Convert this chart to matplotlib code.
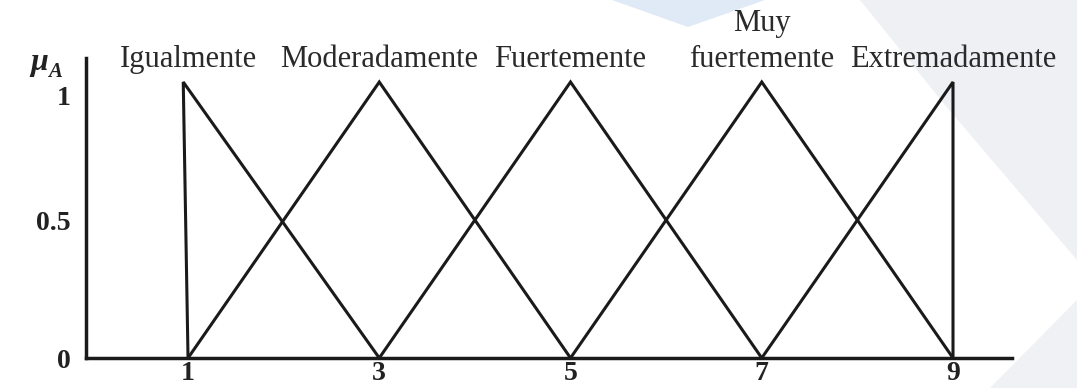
import matplotlib
matplotlib.use("Agg")
import matplotlib.pyplot as plt
from matplotlib.patches import Polygon
from matplotlib.transforms import offset_copy, ScaledTranslation

# Linguistic terms and their triangular membership functions (left, peak, right)
labels = ["Igualmente", "Moderadamente", "Fuertemente", "Muy\nfuertemente", "Extremadamente"]
left_feet = [1, 1, 3, 5, 7]
peaks = [0.95, 3, 5, 7, 9]
right_feet = [3, 5, 7, 9, 9]

x_ticks = [1, 3, 5, 7, 9]
y_ticks = [0, 0.5, 1]
y_tick_labels = ["0", "0.5", "1"]

W, H, DPI = 1077, 388, 100
fig = plt.figure(figsize=(W / DPI, H / DPI), dpi=DPI)
fig.patch.set_facecolor("white")

# soft decorative background shapes
def fpoly(pts, color):
    p = Polygon([(x / W, 1 - y / H) for x, y in pts], closed=True,
                transform=fig.transFigure, facecolor=color, edgecolor="none", zorder=-5)
    fig.patches.append(p)

fpoly([(612, 0), (765, 0), (688, 27)], "#dfeaf6")
fpoly([(860, 0), (1077, 0), (1077, 260), (945, 105)], "#eef0f4")
fpoly([(990, 388), (1077, 300), (1077, 388)], "#eff1f4")

ax = fig.add_axes([86 / W, 30 / H, (1012 - 86) / W, (330 - 30) / H])
ax.set_zorder(2)
ax.patch.set_alpha(0)
ax.set_xlim(-0.067, 9.617)
ax.set_ylim(0, 1.087)

ink = "#1a1a1a"
for a, b, c in zip(left_feet, peaks, right_feet):
    ax.plot([a, b, c], [0, 1, 0], color=ink, lw=2.2, solid_joinstyle="miter",
            clip_on=False, zorder=3)

for s in ["top", "right"]:
    ax.spines[s].set_visible(False)
for s in ["left", "bottom"]:
    ax.spines[s].set_linewidth(2.5)
    ax.spines[s].set_color(ink)

serif = ["Liberation Serif", "DejaVu Serif"]
ax.set_xticks(x_ticks)
ax.set_xticklabels([str(v) for v in x_ticks], fontfamily=serif, fontweight="bold",
                   fontsize=20, color="#222222")
ax.set_yticks(y_ticks)
ax.set_yticklabels(y_tick_labels, fontfamily=serif, fontweight="bold",
                   fontsize=20, color="#222222")
ax.tick_params(axis="both", length=0)
ax.tick_params(axis="x", pad=2)
ax.tick_params(axis="y", pad=11)
# the "1" on the vertical axis sits a little under the peak level
top_lbl = ax.get_yticklabels()[-1]
top_lbl.set_transform(top_lbl.get_transform() + ScaledTranslation(0, -10 / 72, fig.dpi_scale_trans))

# linguistic term captions above each peak
for lab, pk in zip(labels, peaks):
    xpos = round(pk)
    tr = offset_copy(ax.transData, fig=fig, x=0, y=11, units="points")
    ax.text(xpos, 1, lab, transform=tr, ha="center", va="baseline",
            fontfamily=serif, fontsize=22, color="#2a2a2a", linespacing=1.3,
            multialignment="center")

# axis symbol mu_A
tr_mu = offset_copy(ax.transAxes, fig=fig, x=-34, y=-3, units="points")
ax.text(0, 1, "\u03bc", transform=tr_mu, ha="center", va="center",
        fontfamily=serif, fontstyle="italic", fontweight="bold", fontsize=23, color="#222222")
tr_a = offset_copy(ax.transAxes, fig=fig, x=-22, y=-10, units="points")
ax.text(0, 1, "A", transform=tr_a, ha="center", va="center",
        fontfamily=serif, fontstyle="italic", fontweight="bold", fontsize=15, color="#222222")

fig.savefig("out.png", dpi=DPI)
